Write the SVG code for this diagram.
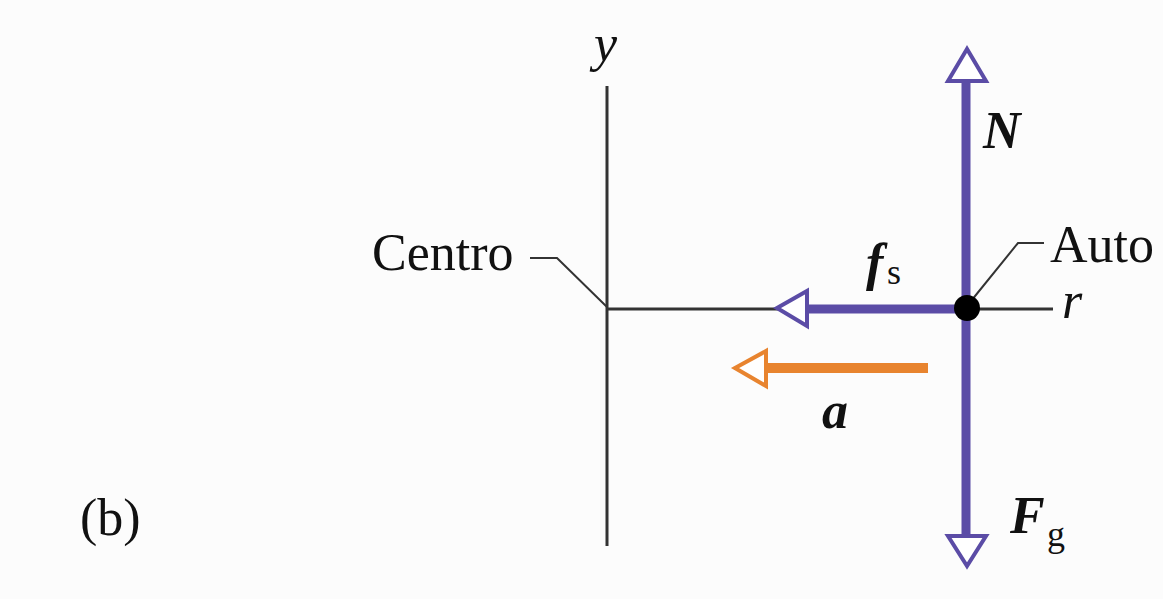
<svg xmlns="http://www.w3.org/2000/svg" width="1163" height="599" viewBox="0 0 1163 599">
<style>
.t{font-family:"Liberation Serif","Times New Roman",serif;fill:#111;font-size:52px}
.bi{font-weight:bold;font-style:italic}
.it{font-style:italic}
.axis{stroke:#333;stroke-width:3;fill:none}
.lead{stroke:#333;stroke-width:2;fill:none}
.vec{stroke:#5b4ca6;stroke-width:9;fill:none}
.head{fill:#fff;stroke:#5b4ca6;stroke-width:4;stroke-linejoin:miter}
</style>
<rect width="1163" height="599" fill="#fcfcfc"/>
<g id="connectors">
<line class="axis" x1="607" y1="86" x2="607" y2="546"/>
<line class="axis" x1="607" y1="309" x2="1053" y2="309"/>
<polyline class="lead" points="530,258 557,258 607,307"/>
<polyline class="lead" points="967,306 1018,243 1044,243"/>
</g>
<g id="N">
<line class="vec" x1="966" y1="80" x2="966" y2="309"/>
<polygon class="head" points="967,49 948,81 986,81"/>
<text class="t bi" x="983" y="148">N</text>
</g>
<g id="Fg">
<line class="vec" x1="966" y1="309" x2="966" y2="537"/>
<polygon class="head" points="967,566 948,536 986,536"/>
<text class="t bi" x="1010" y="533">F</text>
<text class="t" x="1047" y="546" style="font-size:36px">g</text>
</g>
<g id="fs">
<line class="vec" x1="806" y1="309" x2="966" y2="309"/>
<polygon class="head" points="777,308 807,291 807,326"/>
<text class="t bi" x="866" y="280">f</text>
<text class="t" x="887" y="284" style="font-size:36px">s</text>
</g>
<g id="a">
<line stroke="#e8842f" stroke-width="10" x1="765" y1="368" x2="928" y2="368"/>
<polygon points="735,368 766,351 766,386" fill="#fff" stroke="#e8842f" stroke-width="4"/>
<text class="t bi" x="822" y="428">a</text>
</g>
<g id="Auto">
<circle cx="967" cy="308" r="13" fill="#000"/>
<text class="t" x="1050" y="262">Auto</text>
</g>
<g id="Centro">
<text class="t" x="372" y="270">Centro</text>
</g>
<g id="labels">
<text class="t it" x="594" y="61">y</text>
<text class="t it" x="1062" y="318">r</text>
<text class="t" x="80" y="535">(b)</text>
</g>
</svg>
